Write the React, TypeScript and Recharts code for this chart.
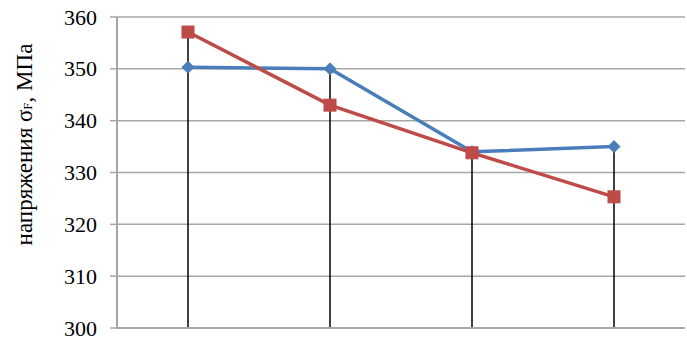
import React from 'react';
import { LineChart, Line, XAxis, YAxis, CartesianGrid, ReferenceLine } from 'recharts';

const categories = ['1', '2', '3', '4'];
const seriesBlue = [350.3, 350.0, 334.0, 335.0];
const seriesRed = [357.1, 343.0, 333.8, 325.3];
const yTicks = [300, 310, 320, 330, 340, 350, 360];
const yLabelMain = 'напряжения σ';
const yLabelSub = 'F';
const yLabelTail = ', МПа';

const data = categories.map((c, i) => ({ cat: c, blue: seriesBlue[i], red: seriesRed[i] }));

const SERIF = "'Liberation Serif', 'Times New Roman', serif";

const Diamond = (props: any) => {
  const { cx, cy } = props;
  if (cx == null || cy == null) return null;
  const r = 6;
  return <polygon points={`${cx},${cy - r} ${cx + r},${cy} ${cx},${cy + r} ${cx - r},${cy}`} fill="#4a7ebb" stroke="#4a7ebb" />;
};

const Square = (props: any) => {
  const { cx, cy } = props;
  if (cx == null || cy == null) return null;
  const s = 12;
  return <rect x={cx - s / 2} y={cy - s / 2} width={s} height={s} fill="#be4b48" stroke="#be4b48" />;
};

const renderYTick = (props: any) => {
  const { x, y, payload } = props;
  return (
    <text
      x={x}
      y={y}
      textAnchor="end"
      dominantBaseline="central"
      style={{ fontFamily: SERIF, fontSize: 22, fill: '#000' }}
    >
      {payload.value}
    </text>
  );
};

const YLabel = (props: any) => {
  const vb = props.viewBox || {};
  const cy = (vb.y ?? 17) + (vb.height ?? 311) / 2 - 28;
  const x = 24;
  return (
    <text
      x={x}
      y={cy}
      transform={`rotate(-90, ${x}, ${cy})`}
      textAnchor="middle"
      dominantBaseline="central"
      style={{ fontFamily: SERIF, fontSize: 23, fill: '#000' }}
    >
      {yLabelMain}
      <tspan style={{ fontSize: 13 }} dy={3}>{yLabelSub}</tspan>
      <tspan dy={-3}>{yLabelTail}</tspan>
    </text>
  );
};

export default function App() {
  return (
    <div style={{ position: 'absolute', left: 0, top: 0, width: 687, height: 337, background: '#fff' }}>
      <LineChart width={687} height={337} data={data} margin={{ top: 17, right: 2, bottom: 0, left: 0 }}>
        <CartesianGrid vertical={false} stroke="#a6a6a6" strokeWidth={1.5} />
        <XAxis
          dataKey="cat"
          tick={false}
          tickLine={false}
          height={9}
          padding={{ left: 71, right: 71 }}
          axisLine={{ stroke: '#a6a6a6', strokeWidth: 2 }}
        />
        <YAxis
          domain={[300, 360]}
          ticks={yTicks}
          interval={0}
          width={117}
          tickSize={7}
          tickMargin={13}
          axisLine={{ stroke: '#a6a6a6', strokeWidth: 2 }}
          tickLine={{ stroke: '#a6a6a6', strokeWidth: 1.5 }}
          tick={renderYTick}
          label={<YLabel />}
        />
        <Line
          type="linear"
          dataKey="blue"
          stroke="#4a7ebb"
          strokeWidth={3.5}
          dot={<Diamond />}
          isAnimationActive={false}
        />
        <Line
          type="linear"
          dataKey="red"
          stroke="#be4b48"
          strokeWidth={3.5}
          dot={<Square />}
          isAnimationActive={false}
        />
        {categories.map((c, i) => (
          <ReferenceLine
            key={c}
            segment={[
              { x: c, y: 300 },
              { x: c, y: Math.max(seriesBlue[i], seriesRed[i]) },
            ]}
            stroke="#000"
            strokeWidth={1.5}
            ifOverflow="visible"
          />
        ))}
      </LineChart>
    </div>
  );
}
